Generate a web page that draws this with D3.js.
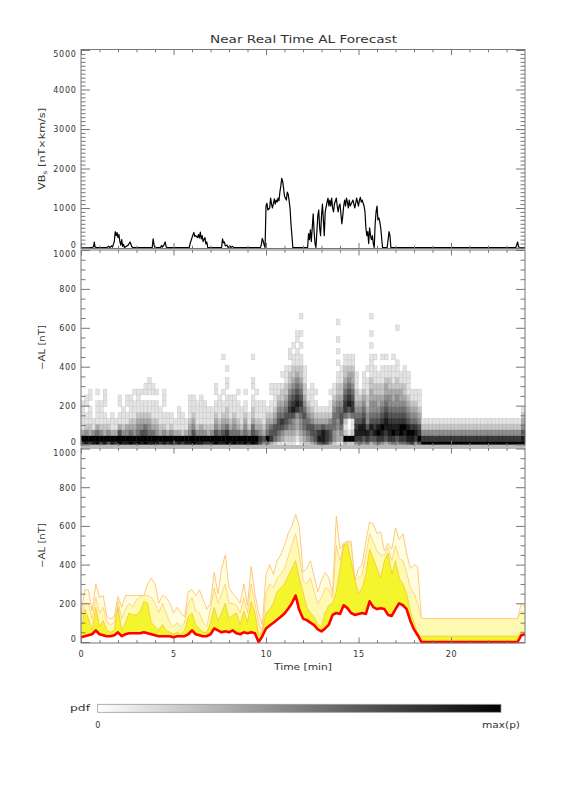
<!DOCTYPE html>
<html>
<head>
<meta charset="utf-8">
<script src="https://cdn.jsdelivr.net/npm/d3@7"></script>
<style>
  body { margin: 0; background: #fff; }
  text { font-family: "DejaVu Sans", sans-serif; fill: #333; }
</style>
</head>
<body>
<div id="container"></div>
<script>
// ---- top panel: solar wind VBs, [minutes, nT*km/s]
const vbsTime = [0,0.6,0.68,0.72,0.76,0.85,1.4,1.5,1.55,1.65,1.7,1.8,1.85,1.9,1.95,2.0,2.05,2.1,2.15,2.2,2.25,2.3,2.35,2.55,2.65,2.75,2.8,
  3.85,3.9,3.95,4.0,4.3,4.35,4.4,4.5,4.55,4.6,4.65,
  5.85,5.9,6.0,6.1,6.15,6.2,6.3,6.35,6.4,6.45,6.5,6.55,6.6,6.7,6.75,6.8,6.85,
  7.6,7.65,7.7,7.75,7.8,7.9,7.95,8.05,8.1,8.2,8.25,
  9.7,9.75,9.8,9.85,9.9,9.95,10.0,10.05,10.1,10.2,10.25,10.3,10.35,10.45,10.5,10.55,10.6,10.65,10.7,10.75,10.8,10.85,10.9,10.95,11.0,11.05,11.1,11.15,11.2,11.3,11.35,11.45,
  12.25,12.3,12.35,12.4,12.45,12.5,12.55,12.6,12.65,12.7,12.75,12.8,12.85,12.9,12.95,13.0,13.05,13.1,13.15,13.2,13.3,13.35,13.4,13.45,13.5,13.55,13.6,13.65,13.7,13.8,13.85,13.9,13.95,14.0,
  14.1,14.15,14.2,14.25,14.3,14.35,14.4,14.45,14.5,14.55,14.6,14.7,14.8,14.9,14.95,15.0,15.05,15.1,15.15,15.2,15.3,15.35,15.4,15.45,15.5,15.55,15.6,15.65,15.7,15.75,15.8,15.85,
  15.9,15.95,16.0,16.05,16.1,16.15,16.2,16.3,16.55,16.6,16.65,16.7,16.75,23.5,23.55,23.6,23.65,23.7,24];
const vbsValue = [0,0,20,140,10,0,0,30,0,40,10,150,400,300,380,250,330,150,60,200,30,80,0,60,140,20,0,
  0,220,60,0,0,50,10,80,140,20,0,
  0,100,250,380,280,300,250,330,240,390,220,300,150,250,90,140,0,
  0,220,120,140,40,60,0,40,0,30,0,
  0,80,230,160,60,0,1050,1120,950,1000,1250,1100,1000,1230,1100,1200,1150,1250,1180,1400,1550,1750,1680,1500,1300,1250,1200,1400,1350,1000,600,0,
  0,350,200,450,150,500,850,400,100,0,400,800,950,500,300,800,1100,700,300,900,1150,1250,1050,1200,1050,1250,1000,900,1100,1250,1050,900,1050,1100,
  600,800,1050,1200,1050,1250,1150,1000,1200,1050,1100,1200,1000,1250,1150,1050,1200,1270,1150,1200,1050,900,500,300,400,100,500,300,200,300,100,0,
  600,900,1050,700,750,650,500,0,0,200,400,300,0,0,60,140,20,0,0];

// ---- forecast time grid [minutes]
const forecastTime = [0,0.2,0.4,0.6,0.8,1,1.2,1.4,1.6,1.8,2,2.2,2.4,2.6,2.8,3,3.2,3.4,3.6,3.8,
  4,4.2,4.4,4.6,4.8,5,5.2,5.4,5.6,5.8,6,6.2,6.4,6.6,6.8,7,7.2,7.4,7.6,7.8,
  8,8.2,8.4,8.6,8.8,9,9.2,9.4,9.6,9.8,10,10.2,10.4,10.6,10.8,11,11.2,11.4,11.6,11.8,
  12,12.2,12.4,12.6,12.8,13,13.2,13.4,13.6,13.8,14,14.2,14.4,14.6,14.8,15,15.2,15.4,15.6,15.8,
  16,16.2,16.4,16.6,16.8,17,17.2,17.4,17.6,17.8,18,18.2,18.4,18.6,18.8,19,19.2,19.4,19.6,19.8,
  20,20.2,20.4,20.6,20.8,21,21.2,21.4,21.6,21.8,22,22.2,22.4,22.6,22.8,23,23.2,23.4,23.6,23.8,24];

// ---- bottom panel: -AL forecast lines [nT]
const alRed = [25,30,35,40,60,40,35,30,30,35,50,30,40,45,45,45,45,50,45,40,
  35,30,30,30,30,25,30,30,30,40,60,40,35,30,30,40,70,60,50,55,
  50,60,45,40,50,45,50,45,0,30,70,85,100,115,130,147,172,200,240,165,
  121,113,100,87,65,55,70,90,140,150,145,190,175,150,140,145,150,145,210,180,
  170,175,170,140,135,170,200,190,170,110,65,35,0,0,0,0,0,0,0,0,
  0,0,0,0,0,0,0,0,0,0,0,0,0,0,0,0,0,0,0,35,40];
const alInner = [60,170,120,60,180,80,110,60,50,60,180,60,100,150,140,140,160,210,200,100,
  80,60,90,60,50,40,50,40,60,130,150,90,70,50,50,100,180,110,150,200,
  120,140,150,90,160,100,210,150,40,50,150,170,200,260,280,300,340,380,420,330,
  260,180,150,130,90,80,150,190,200,260,380,500,510,420,320,250,280,350,480,430,
  380,330,420,460,350,420,330,300,250,160,100,45,30,30,30,30,30,30,30,30,
  30,30,30,30,30,30,30,30,30,30,30,30,30,30,30,30,30,30,30,55,50];
const alMiddle = [120,200,200,120,230,150,180,100,90,100,210,120,170,200,180,220,230,240,240,230,
  200,150,200,150,100,80,100,80,100,200,230,160,150,100,80,170,280,200,250,300,
  200,200,190,150,230,150,300,200,100,50,250,300,280,330,350,380,440,500,560,450,
  320,300,330,260,200,230,280,270,230,500,420,510,520,500,320,330,350,450,560,520,
  470,450,450,490,420,500,430,420,360,280,250,200,121,121,121,121,121,121,121,121,
  121,121,121,121,121,121,121,121,121,121,121,121,121,121,121,121,121,121,121,160,150];
const alOuter = [150,270,270,160,300,230,240,130,120,130,235,180,240,240,240,240,240,240,300,330,
  300,200,240,230,200,150,180,150,130,260,270,240,270,220,170,200,360,250,380,450,
  280,250,230,200,300,190,390,250,150,90,350,400,350,420,450,500,560,600,660,600,
  360,380,420,340,260,320,360,330,250,650,480,510,520,520,320,380,400,520,620,610,
  560,570,470,510,480,590,530,560,460,380,400,390,121,121,121,121,121,121,121,121,
  121,121,121,121,121,121,121,121,121,121,121,121,121,121,121,121,121,121,121,200,180];

// ---- middle panel: pdf per column (0.2 min), one char per 30 nT bin, 0 = empty .. 9 = max(p)
const pdfColumns = [
  "79311111","894211011","7932111011","89411","9953111101","79421111","8932110111","69421","893111","79311",
  "996311011","8942111","894311011","995321111","8943211101","9954321111","8964321101","99653211011","895432110111","89532111011",
  "8943211101","7932111","8942110111","793111","894211","79311","8931111","792111","89311","894321111",
  "996432111","89421111","894311111","79421111","7932111","8942111","99643211011","895321111","8964321101000001","99753221101101",
  "895321111","995432111","8953211101","8942111","9954321101","894211","9965322110110001","8953211101","67432111","46321111",
  "5954321","37653211011","25664321111","14566543211","1346754322101","12356654322111","12345676543221011","123446876543221101","01233478765432111011","12344567654322110101001",
  "23455654322111","2456543211","35664321111","4665321101","6875321","7886321","6775321","4665421101","24455543211","1334455432211010101001",
  "13456654322111","3921257765432211","2910046876543211","2921157765433211","4787654322111","5788654321","4688765432111","57864432211101","36786544332211110101001","4687654432211101",
  "5798654332211","4789765432211101","3678876543321101","47887654432211","5798765433211101","468876544322111000001","5799765433211","57897654322111","6898654321111","7897543211",
  "4787543211","6976432111","97421","97421","97421","97421","97421","97421","97421","97421",
  "97421","97421","97421","97421","97421","97421","97421","97421","97421","97421",
  "97421","97421","97421","97421","97421","97421","97421","97421","97421","9864321"];
const pdfBin = 30;

const vbsTicks = [0, 1000, 2000, 3000, 4000, 5000];
const alTicks = [0, 200, 400, 600, 800, 1000];
const timeTicks = [0, 5, 10, 15, 20];

const svg = d3.select("#container").append("svg")
  .attr("width", 576).attr("height", 792);

const x = d3.scaleLinear().domain([0, 24]).range([81, 525]);
const yVbs = d3.scaleLinear().domain([0, 5000]).range([247.5, 50]);
const yPdf = d3.scaleLinear().domain([0, 1000]).range([444.5, 250]);
const yAl = d3.scaleLinear().domain([0, 1000]).range([642, 448.5]);

const axisColor = "#777";

// heatmap
const cells = [];
pdfColumns.forEach((col, i) => {
  col.split("").forEach((c, k) => {
    const v = +c;
    if (v > 0) cells.push({t0: forecastTime[i], t1: forecastTime[i + 1], lo: Math.max(0, k * pdfBin - pdfBin / 2), hi: k * pdfBin + pdfBin / 2, v: v});
  });
});
const grey = v => { const g = Math.round(255 - v * 255 / 9); return d3.rgb(g, g, g); };
svg.append("g")
  .selectAll("rect")
  .data(cells)
  .join("rect")
  .attr("x", d => x(d.t0))
  .attr("width", d => x(d.t1) - x(d.t0))
  .attr("y", d => yPdf(d.hi))
  .attr("height", d => yPdf(d.lo) - yPdf(d.hi))
  .attr("fill", d => grey(d.v))
  .attr("stroke", d => grey(Math.min(9, d.v + 1)))
  .attr("stroke-width", 0.4);

// bottom panel bands
const idx = forecastTime.map((t, i) => i);
const band = top => d3.area()
  .x(i => x(forecastTime[i]))
  .y0(i => yAl(alRed[i]))
  .y1(i => yAl(top[i]));
const edge = top => d3.line()
  .x(i => x(forecastTime[i]))
  .y(i => yAl(top[i]));
const layers = [
  {data: alOuter, fill: "#fffde0", stroke: "#ffbd5c"},
  {data: alMiddle, fill: "#fffab2", stroke: "#ffca78"},
  {data: alInner, fill: "#f5f52e", stroke: "#f2c53a"}
];
layers.forEach(l => {
  svg.append("path").datum(idx).attr("d", band(l.data)).attr("fill", l.fill);
  svg.append("path").datum(idx).attr("d", edge(l.data))
    .attr("fill", "none").attr("stroke", l.stroke).attr("stroke-width", 0.8);
});
svg.append("path").datum(idx)
  .attr("d", d3.line().x(i => x(forecastTime[i])).y(i => yAl(alRed[i])))
  .attr("fill", "none").attr("stroke", "#ff0000").attr("stroke-width", 2.6)
  .attr("stroke-linejoin", "round");

// VBs line
svg.append("path").datum(vbsTime.map((t, i) => [t, vbsValue[i]]))
  .attr("d", d3.line().x(d => x(d[0])).y(d => yVbs(d[1])))
  .attr("fill", "none").attr("stroke", "#000").attr("stroke-width", 1.2)
  .attr("stroke-linejoin", "round");

// axes
function range(a, b, s) { return d3.range(a, b + s / 2, s); }
function panelAxes(y, top, bottom, ticks, minorStep, showTime) {
  const g = svg.append("g");
  const max = ticks[ticks.length - 1];
  const minor = range(0, max, minorStep).filter(v => ticks.indexOf(v) < 0);
  const xMinor = range(0, 24, 1).filter(v => timeTicks.indexOf(v) < 0 && v < 24);
  const style = sel => {
    sel.select(".domain").remove();
    sel.selectAll("line").attr("stroke", axisColor);
    sel.selectAll("text").attr("font-size", 8).attr("letter-spacing", 0.7)
      .attr("fill", "#333").attr("font-family", "DejaVu Sans");
  };
  g.append("g").attr("transform", `translate(${x(0)},0)`)
    .call(d3.axisLeft(y).tickValues(ticks).tickSize(-9).tickPadding(4.5).tickFormat(d3.format("d")))
    .call(style)
    .selectAll("text")
    .attr("dy", d => d === max ? "0.84em" : d === 0 ? "-0.05em" : "0.35em");
  g.append("g").attr("transform", `translate(${x(0)},0)`)
    .call(d3.axisLeft(y).tickValues(minor).tickSize(-4.5).tickFormat("")).call(style);
  g.append("g").attr("transform", `translate(${x(24)},0)`)
    .call(d3.axisRight(y).tickValues(ticks).tickSize(-9).tickFormat("")).call(style);
  g.append("g").attr("transform", `translate(${x(24)},0)`)
    .call(d3.axisRight(y).tickValues(minor).tickSize(-4.5).tickFormat("")).call(style);
  g.append("g").attr("transform", `translate(0,${bottom})`)
    .call(d3.axisBottom(x).tickValues(timeTicks).tickSize(-5.5).tickPadding(8.5)
      .tickFormat(showTime ? d3.format("d") : ""))
    .call(style);
  g.append("g").attr("transform", `translate(0,${bottom})`)
    .call(d3.axisBottom(x).tickValues(xMinor).tickSize(-2.8).tickFormat("")).call(style);
  g.append("g").attr("transform", `translate(0,${top})`)
    .call(d3.axisTop(x).tickValues(timeTicks).tickSize(-5.5).tickFormat("")).call(style);
  g.append("g").attr("transform", `translate(0,${top})`)
    .call(d3.axisTop(x).tickValues(xMinor).tickSize(-2.8).tickFormat("")).call(style);
  g.append("rect")
    .attr("x", x(0)).attr("y", top)
    .attr("width", x(24) - x(0)).attr("height", bottom - top)
    .attr("fill", "none").attr("stroke", axisColor).attr("stroke-width", 1);
}
panelAxes(yVbs, 49.5, 248.5, vbsTicks, 100, false);
panelAxes(yPdf, 250, 446, alTicks, 50, false);
panelAxes(yAl, 448, 643, alTicks, 50, true);

// titles: stretched to the widths of the reference lettering
const wide = (sel, len) => sel.attr("textLength", len).attr("lengthAdjust", "spacingAndGlyphs");

svg.append("text").attr("x", 303.5).attr("y", 43.3).attr("text-anchor", "middle")
  .attr("font-size", 10).call(wide, 187)
  .text("Near Real Time AL Forecast");

const yTitle = (cy, len, build) => {
  const t = svg.append("text").attr("transform", `translate(44.5,${cy}) rotate(-90)`)
    .attr("text-anchor", "middle").attr("font-size", 8.5).call(wide, len);
  build(t);
};
yTitle(149, 82, t => {
  t.append("tspan").text("VB");
  t.append("tspan").attr("font-size", 6).attr("dy", 2).text("s");
  t.append("tspan").attr("dy", -2).text(" [nT×km/s]");
});
yTitle(347.5, 45, t => t.text("−AL [nT]"));
yTitle(545.5, 45, t => t.text("−AL [nT]"));

svg.append("text").attr("x", 303).attr("y", 670).attr("text-anchor", "middle")
  .attr("font-size", 8.5).call(wide, 58)
  .text("Time [min]");

// colour bar
const grad = svg.append("defs").append("linearGradient").attr("id", "pdfbar");
grad.append("stop").attr("offset", "0%").attr("stop-color", "#fff");
grad.append("stop").attr("offset", "100%").attr("stop-color", "#000");
svg.append("rect").attr("x", 97.7).attr("y", 704.3).attr("width", 403.3).attr("height", 8)
  .attr("fill", "url(#pdfbar)").attr("stroke", "#999").attr("stroke-width", 0.8);
svg.append("text").attr("x", 90).attr("y", 711).attr("text-anchor", "end")
  .attr("font-size", 8.5).call(wide, 20).text("pdf");
svg.append("text").attr("x", 97.7).attr("y", 728).attr("text-anchor", "middle")
  .attr("font-size", 8).text("0");
svg.append("text").attr("x", 501).attr("y", 728).attr("text-anchor", "middle")
  .attr("font-size", 8.5).call(wide, 38).text("max(p)");
</script>
</body>
</html>
